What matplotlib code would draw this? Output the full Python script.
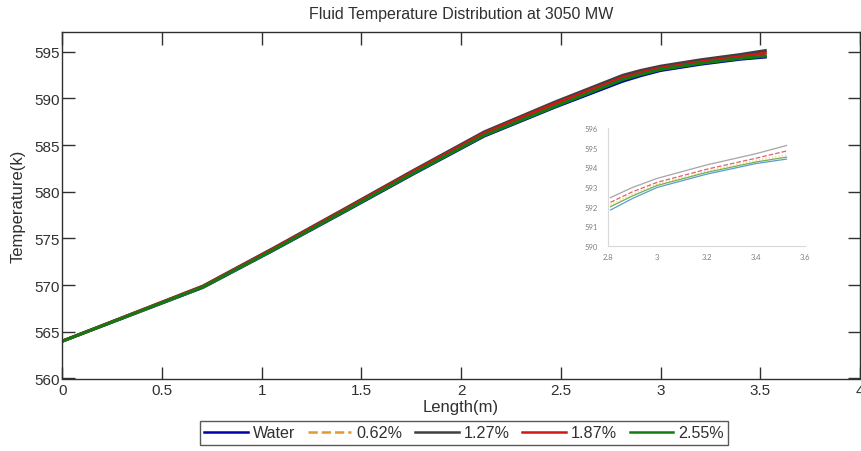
import matplotlib
matplotlib.use("Agg")
import matplotlib.pyplot as plt

plt.rcParams['font.family'] = ['Liberation Sans', 'DejaVu Sans']

# ---- data ----
length_m = [0.0, 0.35, 0.705, 1.06, 1.41, 1.76, 2.115, 2.47, 2.81, 2.9, 3.0, 3.2, 3.4, 3.525]
water = [564.00, 566.85, 569.75, 573.75, 577.80, 581.90, 585.95, 589.05, 591.83, 592.42, 592.98, 593.65, 594.19, 594.42]
p062 = [564.00, 566.88, 569.80, 573.82, 577.90, 582.02, 586.10, 589.22, 592.10, 592.64, 593.15, 593.80, 594.35, 594.64]
p127 = [564.00, 566.93, 569.90, 573.97, 578.10, 582.27, 586.40, 589.60, 592.46, 592.98, 593.44, 594.12, 594.69, 595.11]
p187 = [564.00, 566.91, 569.85, 573.90, 578.00, 582.15, 586.25, 589.42, 592.22, 592.76, 593.24, 593.90, 594.46, 594.83]
p255 = [564.00, 566.87, 569.78, 573.78, 577.85, 581.96, 586.02, 589.12, 592.00, 592.55, 593.08, 593.74, 594.27, 594.52]

labels = ['Water', '0.62%', '1.27%', '1.87%', '2.55%']
series = [water, p062, p127, p187, p255]
main_colors = ['#0000a8', '#e09a30', '#404040', '#d01818', '#127a12']
main_styles = ['-', '--', '-', '-', '-']

inset_colors = ['#5b9bd5', '#f2d46b', '#a5a5a5', '#e0606e', '#70b050']
inset_styles = ['-', ':', '-', '--', '-']

xticks = [0, 0.5, 1, 1.5, 2, 2.5, 3, 3.5, 4]
xticklabels = ['0', '0.5', '1', '1.5', '2', '2.5', '3', '3.5', '4']
yticks = [560, 565, 570, 575, 580, 585, 590, 595]
inset_xticks = [2.8, 3.0, 3.2, 3.4, 3.6]
inset_xticklabels = ['2.8', '3', '3.2', '3.4', '3.6']
inset_yticks = [590, 591, 592, 593, 594, 595, 596]

W, H = 861, 452
fig = plt.figure(figsize=(W / 100, H / 100), dpi=100)
ax = fig.add_axes([62.3 / W, 1 - 379.5 / H, (860 - 62.3) / W, (379.5 - 33) / H])

handles = []
for y, lab, c, ls in zip(series, labels, main_colors, main_styles):
    h, = ax.plot(length_m, y, color=c, ls=ls, lw=2.2, label=lab)
    handles.append(h)

ax.set_xlim(0, 4)
ax.set_ylim(560, 597.1)
ax.set_xticks(xticks)
ax.set_xticklabels(xticklabels)
ax.set_yticks(yticks)
ax.tick_params(direction='in', length=9, width=1, top=True, right=True,
               labelsize=11, colors='#303030')
ax.tick_params(axis='x', pad=3)
ax.tick_params(axis='y', pad=1.5)
for s in ax.spines.values():
    s.set_linewidth(1)
    s.set_color('#303030')

fig.text(461 / W, 1 - 14 / H, 'Fluid Temperature Distribution at 3050 MW',
         ha='center', va='center', fontsize=11.5, color='#303030')
fig.text(461 / W, 1 - 408 / H, 'Length(m)', ha='center', va='center',
         fontsize=12, color='#303030')
fig.text(18 / W, 1 - 206 / H, 'Temperature(k)', ha='center', va='center',
         rotation=90, fontsize=12, color='#303030')

leg = fig.legend(handles=handles, labels=labels, loc='center',
                 bbox_to_anchor=(464 / W, 1 - 434 / H), ncol=5, fontsize=11.6,
                 frameon=True, fancybox=False, handlelength=2.7,
                 handletextpad=0.3, columnspacing=0.8, borderpad=0.25,
                 borderaxespad=0)
leg.get_frame().set_edgecolor('#303030')
leg.get_frame().set_linewidth(1)
for t in leg.get_texts():
    t.set_color('#303030')
for lh in leg.get_lines():
    lh.set_linewidth(1.8)

# ---- inset ----
ins = fig.add_axes([608 / W, 1 - 247 / H, (805 - 608) / W, (247 - 129) / H])
order = [2, 3, 1, 4, 0]
xs = [x for x in length_m if x >= 2.8]
for i in order:
    ys = series[i][-len(xs):]
    ins.plot(xs, ys, color=inset_colors[i], ls=inset_styles[i], lw=0.9)
ins.set_xlim(2.8, 3.6)
ins.set_ylim(590, 596)
ins.set_xticks(inset_xticks)
ins.set_xticklabels(inset_xticklabels)
ins.set_yticks(inset_yticks)
ins.tick_params(length=0, labelsize=5.5, colors='#7f7f7f')
ins.tick_params(axis='y', pad=7)
ins.tick_params(axis='x', pad=5)
for k in ['top', 'right']:
    ins.spines[k].set_visible(False)
for k in ['left', 'bottom']:
    ins.spines[k].set_color('#d9d9d9')
    ins.spines[k].set_linewidth(0.8)
for t in ins.get_xticklabels() + ins.get_yticklabels():
    t.set_family(['Lato', 'DejaVu Sans'])

fig.savefig('out.png', dpi=100)
